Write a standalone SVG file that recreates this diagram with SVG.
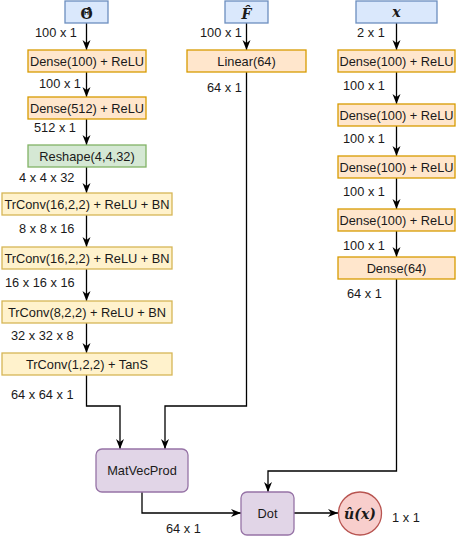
<svg xmlns="http://www.w3.org/2000/svg" width="457" height="537" viewBox="0 0 457 537">
<style>
text{font-family:"Liberation Sans",Arial,sans-serif;font-size:12.8px;fill:#1a1a1a}
.c{text-anchor:middle}
.m{font-family:"DejaVu Serif","Liberation Serif",serif;font-weight:bold;font-size:14px;text-anchor:middle}
.blue{fill:#dae8fc;stroke:#6c8ebf;stroke-width:1.3}
.orange{fill:#ffe6cc;stroke:#d79b00;stroke-width:1.3}
.green{fill:#d5e8d4;stroke:#82b366;stroke-width:1.3}
.yellow{fill:#fff2cc;stroke:#d6b656;stroke-width:1.3}
.purple{fill:#e1d5e7;stroke:#9673a6;stroke-width:1.3}
.red{fill:#f8cecc;stroke:#b85450;stroke-width:1.3}
.e{fill:none;stroke:#000;stroke-width:1.3;marker-end:url(#a)}
</style>
<defs>
<marker id="a" viewBox="0 0 10 10" refX="10" refY="5" markerWidth="10" markerHeight="10" markerUnits="userSpaceOnUse" orient="auto">
<path d="M0,1 L10,5 L0,9 L3,5 z" fill="#000"/>
</marker>
</defs>
<g id="connectors">
<path class="e" d="M86.5,23 V50"/>
<path class="e" d="M86.5,72 V97"/>
<path class="e" d="M86.5,119 V145"/>
<path class="e" d="M86.5,167 V193"/>
<path class="e" d="M86.5,215 V247"/>
<path class="e" d="M86.5,269 V301"/>
<path class="e" d="M86.5,323 V353"/>
<path class="e" d="M86.5,375 V406 H120 V449"/>
<path class="e" d="M246.5,23 V50"/>
<path class="e" d="M246.5,72 V406 H165 V449"/>
<path class="e" d="M396.5,23 V50"/>
<path class="e" d="M396.5,72 V104"/>
<path class="e" d="M396.5,126 V156"/>
<path class="e" d="M396.5,178 V209"/>
<path class="e" d="M396.5,231 V257"/>
<path class="e" d="M396.5,279 V471 H268 V492"/>
<path class="e" d="M142,492 V513 H241"/>
<path class="e" d="M294,513 H338"/>
</g>
<g id="labels">
<text x="35" y="37">100 x 1</text>
<text x="39" y="88">100 x 1</text>
<text x="34" y="132">512 x 1</text>
<text x="19" y="182">4 x 4 x 32</text>
<text x="19" y="233">8 x 8 x 16</text>
<text x="5" y="287">16 x 16 x 16</text>
<text x="11" y="340">32 x 32 x 8</text>
<text x="11" y="399">64 x 64 x 1</text>
<text x="200" y="37">100 x 1</text>
<text x="207" y="92">64 x 1</text>
<text x="357" y="37">2 x 1</text>
<text x="343" y="90">100 x 1</text>
<text x="343" y="143">100 x 1</text>
<text x="343" y="196">100 x 1</text>
<text x="343" y="250">100 x 1</text>
<text x="347" y="298">64 x 1</text>
<text x="166" y="533">64 x 1</text>
<text x="392" y="522">1 x 1</text>
</g>
<g id="theta"><rect class="blue" x="65" y="1" width="43" height="22"/><text class="m" x="86.5" y="19" font-size="14">Θ̂</text></g>
<g id="F"><rect class="blue" x="225" y="1" width="43" height="22"/><text class="m" x="246.5" y="19" font-style="italic" font-size="14">F̂</text></g>
<g id="xin"><rect class="blue" x="356" y="1" width="81" height="22"/><text class="m" x="396.5" y="16.5" font-style="italic">x</text></g>
<g id="l_dense1"><rect class="orange" x="28" y="50" width="118" height="22"/><text class="c" x="87" y="65.5">Dense(100) + ReLU</text></g>
<g id="l_dense2"><rect class="orange" x="28" y="97" width="118" height="22"/><text class="c" x="87" y="112.5">Dense(512) + ReLU</text></g>
<g id="reshape"><rect class="green" x="28" y="145" width="118" height="22"/><text class="c" x="87" y="160.5">Reshape(4,4,32)</text></g>
<g id="trconv1"><rect class="yellow" x="2" y="193" width="170" height="22"/><text class="c" x="87" y="208.5">TrConv(16,2,2) + ReLU + BN</text></g>
<g id="trconv2"><rect class="yellow" x="2" y="247" width="170" height="22"/><text class="c" x="87" y="262.5">TrConv(16,2,2) + ReLU + BN</text></g>
<g id="trconv3"><rect class="yellow" x="2" y="301" width="170" height="22"/><text class="c" x="87" y="316.5">TrConv(8,2,2) + ReLU + BN</text></g>
<g id="trconv4"><rect class="yellow" x="2" y="353" width="170" height="22"/><text class="c" x="87" y="368.5">TrConv(1,2,2) + TanS</text></g>
<g id="linear"><rect class="orange" x="187" y="50" width="119" height="22"/><text class="c" x="246.5" y="65.5">Linear(64)</text></g>
<g id="r_dense1"><rect class="orange" x="338" y="50" width="117" height="22"/><text class="c" x="396.5" y="65.5">Dense(100) + ReLU</text></g>
<g id="r_dense2"><rect class="orange" x="338" y="104" width="117" height="22"/><text class="c" x="396.5" y="119.5">Dense(100) + ReLU</text></g>
<g id="r_dense3"><rect class="orange" x="338" y="156" width="117" height="22"/><text class="c" x="396.5" y="171.5">Dense(100) + ReLU</text></g>
<g id="r_dense4"><rect class="orange" x="338" y="209" width="117" height="22"/><text class="c" x="396.5" y="224.5">Dense(100) + ReLU</text></g>
<g id="r_dense64"><rect class="orange" x="338" y="257" width="117" height="22"/><text class="c" x="396.5" y="272.5">Dense(64)</text></g>
<g id="matvec"><rect class="purple" x="96" y="449" width="92" height="43" rx="6"/><text class="c" x="142" y="475">MatVecProd</text></g>
<g id="dot"><rect class="purple" x="241" y="492" width="53" height="43" rx="6"/><text class="c" x="267.5" y="518">Dot</text></g>
<g id="u"><circle class="red" cx="360" cy="513.5" r="21.5"/><text class="m" x="360" y="518.5" font-style="italic">û(x)</text></g>
</svg>
